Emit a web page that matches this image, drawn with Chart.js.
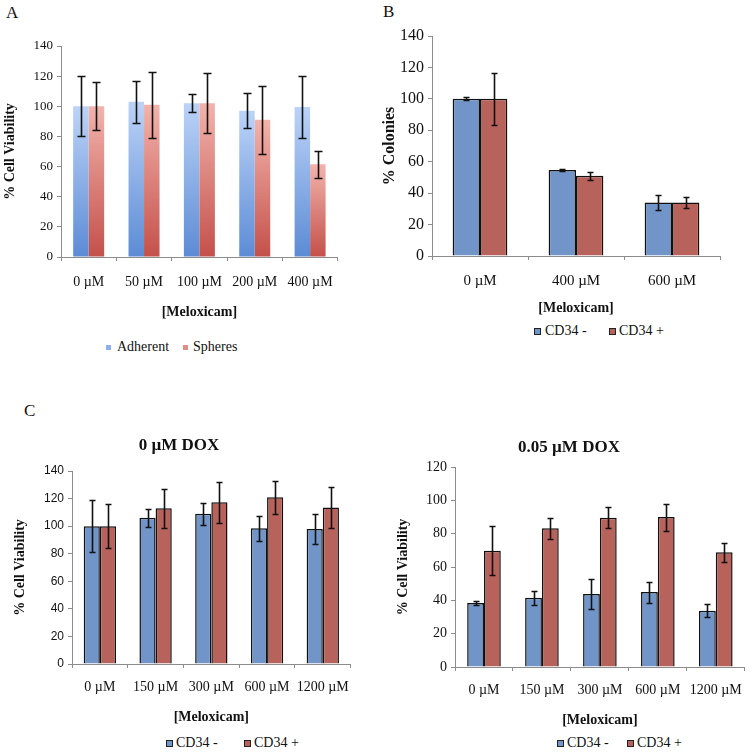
<!DOCTYPE html>
<html>
<head>
<meta charset="utf-8">
<script src="https://cdn.jsdelivr.net/npm/chart.js@4.4.1/dist/chart.umd.min.js"></script>
<style>
  html, body { margin: 0; padding: 0; background: #fff; }
  body { position: relative; width: 754px; height: 756px; overflow: hidden; font-family: 'Liberation Serif', serif; color: #111; }
  canvas { position: absolute; }
  .letter { position: absolute; font-size: 17px; line-height: 1; }
  .key { position: absolute; font-size: 14px; line-height: 1; white-space: nowrap; }
  .key i { position: absolute; top: 50%; display: block; box-sizing: border-box; }
</style>
</head>
<body>
<div class="letter" style="left:6px;top:4px">A</div>
<div class="letter" style="left:383px;top:3px">B</div>
<div class="letter" style="left:24px;top:402px">C</div>

<canvas id="chart-a" style="left:0;top:0"></canvas>
<canvas id="chart-b" style="left:380px;top:0"></canvas>
<canvas id="chart-c1" style="left:0;top:380px"></canvas>
<canvas id="chart-c2" style="left:387px;top:380px"></canvas>

<div id="legends"></div>

<script>
// values (mean and +/- error)
var doseA = ['0 µM', '50 µM', '100 µM', '200 µM', '400 µM'];
var adherent = [100, 103, 102, 97, 99.5];
var adherentErr = [20, 14, 6, 11.5, 20.5];
var spheres = [100, 101, 102, 91, 61.5];
var spheresErr = [16, 22, 20, 22.5, 9];

var doseB = ['0 µM', '400 µM', '600 µM'];
var coloniesNeg = [100, 54.7, 34];
var coloniesNegErr = [1, 0.8, 4.8];
var coloniesPos = [100, 51, 34];
var coloniesPosErr = [16.5, 2.5, 3.6];

var doseC = ['0 µM', '150 µM', '300 µM', '600 µM', '1200 µM'];
var dox0Neg = [100, 106, 109, 98.4, 97.9];
var dox0NegErr = [19, 6.6, 8, 9.3, 11];
var dox0Pos = [100, 112.9, 117.3, 121, 113.6];
var dox0PosErr = [16, 14, 14.8, 12, 15];
var dox005Neg = [38.4, 41.5, 43.8, 45, 33.8];
var dox005NegErr = [1.3, 4.4, 9.2, 6.3, 4];
var dox005Pos = [69.8, 83.3, 89.6, 90, 68.8];
var dox005PosErr = [14.8, 6.2, 6.4, 8.1, 5.9];

var ticks140 = [0, 20, 40, 60, 80, 100, 120, 140];
var ticks120 = [0, 20, 40, 60, 80, 100, 120];

var BLUE = '#7195c9';
var RED = '#b8625c';
var AXIS = '#8c8c8c';

Chart.defaults.font.family = "'Liberation Serif', serif";
Chart.defaults.color = '#111';

// draws the +/- error whiskers from each dataset's `errors` array
var errorBars = {
  id: 'errorBars',
  afterDatasetsDraw: function (chart, args, opts) {
    var ctx = chart.ctx;
    var y = chart.scales.y;
    ctx.save();
    ctx.strokeStyle = '#111';
    ctx.lineWidth = 1.6;
    chart.data.datasets.forEach(function (ds, i) {
      chart.getDatasetMeta(i).data.forEach(function (bar, j) {
        var v = ds.data[j], e = ds.errors[j];
        var top = Math.round(y.getPixelForValue(v + e)) + 0.5;
        var bot = Math.round(y.getPixelForValue(v - e)) + 0.5;
        var x = Math.round(bar.x) + 0.5;
        var w = opts.cap || 3;
        ctx.beginPath();
        ctx.moveTo(x, top); ctx.lineTo(x, bot);
        ctx.moveTo(x - w, top); ctx.lineTo(x + w, top);
        ctx.moveTo(x - w, bot); ctx.lineTo(x + w, bot);
        ctx.stroke();
      });
    });
    ctx.restore();
  }
};

// per-bar vertical gradient like the Excel fill in panel A
function gradient(light, dark) {
  return function (c) {
    var chart = c.chart;
    if (c.type !== 'data' || !chart.scales.y) return dark;
    var y = chart.scales.y;
    var top = y.getPixelForValue(c.raw);
    var bottom = y.getPixelForValue(0);
    if (!isFinite(top) || !isFinite(bottom) || bottom - top < 1) return dark;
    var g = chart.ctx.createLinearGradient(0, top, 0, bottom);
    g.addColorStop(0, light);
    g.addColorStop(1, dark);
    return g;
  };
}

function makeChart(id, cfg) {
  var el = document.getElementById(id);
  el.width = cfg.width;
  el.height = cfg.height;
  return new Chart(el, {
    type: 'bar',
    data: { labels: cfg.labels, datasets: cfg.datasets },
    options: {
      responsive: false,
      animation: false,
      devicePixelRatio: 1,
      layout: { padding: cfg.padding },
      plugins: {
        legend: { display: false },
        tooltip: { enabled: false },
        title: cfg.title ? {
          display: true,
          text: cfg.title,
          font: { size: 17, weight: 'bold' },
          color: '#111',
          padding: cfg.titlePadding
        } : { display: false },
        errorBars: { cap: cfg.cap }
      },
      datasets: { bar: { categoryPercentage: cfg.catPct, barPercentage: 1 } },
      scales: {
        x: {
          offset: true,
          grid: { display: true, offset: true, drawOnChartArea: false, tickLength: 4, color: AXIS },
          border: { color: AXIS, width: 1 },
          ticks: { font: { size: cfg.xFont }, color: '#111', maxRotation: 0, autoSkip: false, padding: cfg.xTickPad },
          title: { display: true, text: '[Meloxicam]', font: { size: 14, weight: 'bold' }, color: '#111', padding: { top: 8, bottom: cfg.xTitleBottom } },
          afterFit: function (s) { s.height = cfg.xHeight; }
        },
        y: {
          min: 0,
          max: cfg.yTicks[cfg.yTicks.length - 1],
          afterBuildTicks: function (s) { s.ticks = cfg.yTicks.map(function (v) { return { value: v }; }); },
          grid: { display: true, drawOnChartArea: false, tickLength: 4, color: AXIS },
          border: { color: AXIS, width: 1 },
          ticks: { font: cfg.yFont, color: '#111', padding: 4 },
          title: { display: true, text: cfg.yTitle, font: { size: cfg.yTitleSize, weight: 'bold' }, color: '#111', padding: { top: cfg.yTitlePad, bottom: 0 } },
          afterFit: function (s) { s.width = cfg.yWidth; }
        }
      }
    },
    plugins: [errorBars]
  });
}

makeChart('chart-a', {
  width: 346, height: 322,
  padding: { left: 0, top: 46, right: 4, bottom: 0 },
  labels: doseA,
  datasets: [
    { label: 'Adherent', data: adherent, errors: adherentErr, backgroundColor: gradient('#bcd3f7', '#5c8bd5') },
    { label: 'Spheres', data: spheres, errors: spheresErr, backgroundColor: gradient('#f2b3ac', '#c4504a') }
  ],
  catPct: 0.56, cap: 4,
  xFont: 14, xTickPad: 13, xTitleBottom: 1, xHeight: 65,
  yTicks: ticks140, yFont: { size: 13 }, yWidth: 61,
  yTitle: '% Cell Viability', yTitleSize: 14, yTitlePad: 2
});

makeChart('chart-b', {
  width: 344, height: 320,
  padding: { left: 0, top: 36, right: 4, bottom: 0 },
  labels: doseB,
  datasets: [
    { label: 'CD34 -', data: coloniesNeg, errors: coloniesNegErr, backgroundColor: BLUE, borderColor: '#111', borderWidth: 1.5 },
    { label: 'CD34 +', data: coloniesPos, errors: coloniesPosErr, backgroundColor: RED, borderColor: '#111', borderWidth: 1.5 }
  ],
  catPct: 0.57, cap: 3,
  xFont: 15, xTickPad: 12, xTitleBottom: 3, xHeight: 64,
  yTicks: ticks140, yFont: { size: 16 }, yWidth: 52,
  yTitle: '% Colonies', yTitleSize: 16, yTitlePad: 0
});

makeChart('chart-c1', {
  width: 360, height: 346,
  padding: { left: 0, top: 0, right: 2, bottom: 0 },
  title: '0 µM DOX', titlePadding: { top: 55, bottom: 15.6 },
  labels: doseC,
  datasets: [
    { label: 'CD34 -', data: dox0Neg, errors: dox0NegErr, backgroundColor: BLUE, borderColor: '#111', borderWidth: 1.5 },
    { label: 'CD34 +', data: dox0Pos, errors: dox0PosErr, backgroundColor: RED, borderColor: '#111', borderWidth: 1.5 }
  ],
  catPct: 0.58, cap: 3,
  xFont: 14, xTickPad: 11, xTitleBottom: 0, xHeight: 62,
  yTicks: ticks140, yFont: { size: 12, family: "'Liberation Sans', sans-serif" }, yWidth: 72,
  yTitle: '% Cell Viability', yTitleSize: 14, yTitlePad: 12
});

makeChart('chart-c2', {
  width: 366, height: 349,
  padding: { left: 0, top: 0, right: 2, bottom: 0 },
  title: '0.05 µM DOX', titlePadding: { top: 57, bottom: 9.6 },
  labels: doseC,
  datasets: [
    { label: 'CD34 -', data: dox005Neg, errors: dox005NegErr, backgroundColor: BLUE, borderColor: '#111', borderWidth: 1.5 },
    { label: 'CD34 +', data: dox005Pos, errors: dox005PosErr, backgroundColor: RED, borderColor: '#111', borderWidth: 1.5 }
  ],
  catPct: 0.58, cap: 3,
  xFont: 14, xTickPad: 11, xTitleBottom: 0, xHeight: 62,
  yTicks: ticks120, yFont: { size: 14 }, yWidth: 68,
  yTitle: '% Cell Viability', yTitleSize: 14, yTitlePad: 8
});

// legends placed under each panel
function legend(y, items) {
  var box = document.getElementById('legends');
  items.forEach(function (it) {
    var d = document.createElement('div');
    d.className = 'key';
    d.style.left = it.x + 'px';
    d.style.top = (y - 7) + 'px';
    d.style.paddingLeft = (it.size + it.gap) + 'px';
    var sq = document.createElement('i');
    sq.style.left = '0';
    sq.style.width = it.size + 'px';
    sq.style.height = it.size + 'px';
    sq.style.marginTop = (-it.size / 2) + 'px';
    sq.style.background = it.color;
    if (it.border) sq.style.border = '1.3px solid #222';
    d.appendChild(sq);
    d.appendChild(document.createTextNode(it.text));
    box.appendChild(d);
  });
}

legend(347, [
  { x: 106, text: 'Adherent', color: '#8eb0ea', size: 5, gap: 6 },
  { x: 183, text: 'Spheres', color: '#e08e87', size: 5, gap: 5 }
]);
legend(331, [
  { x: 534, text: 'CD34 -', color: BLUE, size: 7, gap: 4, border: true },
  { x: 609, text: 'CD34 +', color: RED, size: 7, gap: 3, border: true }
]);
legend(743, [
  { x: 166, text: 'CD34 -', color: BLUE, size: 7, gap: 3, border: true },
  { x: 244, text: 'CD34 +', color: RED, size: 7, gap: 3, border: true }
]);
legend(743, [
  { x: 557, text: 'CD34 -', color: BLUE, size: 7, gap: 3, border: true },
  { x: 627, text: 'CD34 +', color: RED, size: 7, gap: 3, border: true }
]);
</script>
</body>
</html>
